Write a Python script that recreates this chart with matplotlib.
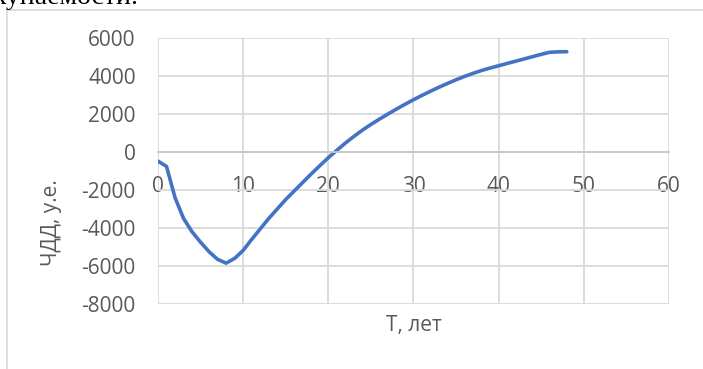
import matplotlib.pyplot as plt
from matplotlib.patches import Rectangle

plt.rcParams["axes.unicode_minus"] = False

# NPV by year
years = list(range(0, 49))
npv = [-480, -760, -2400, -3500, -4200, -4750, -5250, -5650, -5850, -5600,
       -5180, -4600, -4050, -3500, -3000, -2500, -2050, -1600, -1150, -720,
       -300, 90, 470, 820, 1150, 1450, 1730, 2000, 2260, 2510,
       2750, 2980, 3200, 3410, 3610, 3800, 3980, 4140, 4290, 4420,
       4540, 4660, 4780, 4900, 5020, 5140, 5250, 5270, 5280]

x_ticks = [0, 10, 20, 30, 40, 50, 60]
y_ticks = [-8000, -6000, -4000, -2000, 0, 2000, 4000, 6000]

W, H = 703, 369
fig = plt.figure(figsize=(W / 100, H / 100), dpi=100)
fig.patch.set_facecolor("white")

# chart frame (runs off the right and bottom edges)
fig.add_artist(Rectangle((7 / W, -0.1), 1.2, 1.1 - 10 / H, transform=fig.transFigure,
                         fill=False, edgecolor="#d9d9d9", linewidth=1.2))

# tail of the preceding paragraph
fig.text(138 / W, 1 - 4 / H, "окупаемости.", family="Liberation Serif", fontsize=20,
         ha="right", va="baseline", color="black")

ax = fig.add_axes([158 / W, 1 - 304 / H, (669 - 158) / W, (304 - 38) / H])
ax.plot(years, npv, color="#4472c4", linewidth=2.6,
        solid_capstyle="round", solid_joinstyle="round")

ax.set_xlim(0, 60)
ax.set_ylim(-8000, 6000)
ax.set_xticks(x_ticks)
ax.set_yticks(y_ticks)
ax.grid(True, color="#d9d9d9", linewidth=1.3)
ax.set_axisbelow(True)

for side in ["top", "right", "left"]:
    ax.spines[side].set_visible(False)
ax.spines["bottom"].set_position(("data", 0))
ax.spines["bottom"].set_color("#c8c8c8")
ax.spines["bottom"].set_linewidth(1.3)

ax.tick_params(axis="both", length=0, labelsize=15, labelcolor="#595959")
ax.tick_params(axis="x", pad=17)
ax.tick_params(axis="y", pad=16)
for lbl in ax.get_xticklabels() + ax.get_yticklabels():
    lbl.set_family("Open Sans")

fig.text(51 / W, 1 - 223 / H, "ЧДД, у.е.", rotation=90, ha="center", va="center",
         family="Open Sans", fontsize=15, color="#595959")
fig.text(414 / W, 1 - 326 / H, "Т, лет", ha="center", va="center",
         family="Open Sans", fontsize=15, color="#595959")

fig.savefig("out.png", dpi=100)
